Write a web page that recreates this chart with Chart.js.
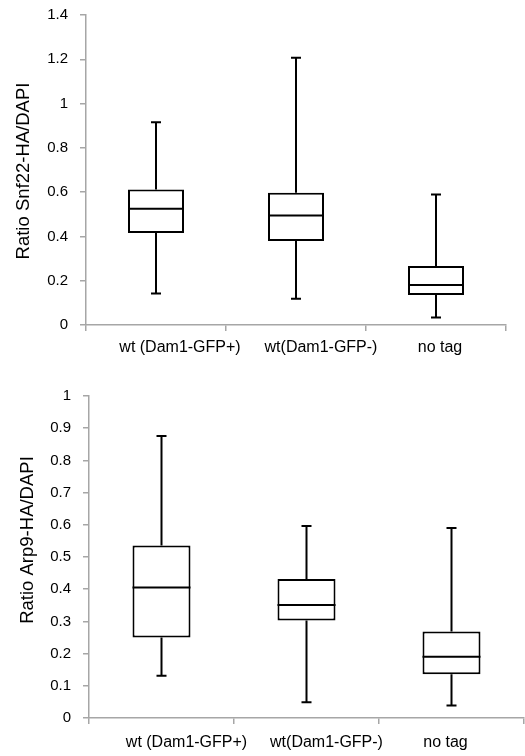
<!DOCTYPE html>
<html>
<head>
<meta charset="utf-8">
<script src="https://cdn.jsdelivr.net/npm/chart.js@4"></script>
<style>
  html, body { margin: 0; padding: 0; background: #fff; overflow: hidden; }
  .wrap { position: relative; width: 525px; }
  canvas { display: block; }
</style>
</head>
<body>
<div class="wrap" style="height:366px; margin-top:-6px"><canvas id="top"></canvas></div>
<div class="wrap" style="height:396px"><canvas id="bottom"></canvas></div>
<script>
// --- box plot values ---
const categories = ['wt (Dam1-GFP+)', 'wt(Dam1-GFP-)', 'no tag'];

const snfMin = [0.142, 0.118, 0.034];
const snfQ1 = [0.415, 0.379, 0.135];
const snfMed = [0.525, 0.495, 0.181];
const snfQ3 = [0.612, 0.597, 0.267];
const snfMax = [0.916, 1.207, 0.589];

const arpMin = [0.131, 0.049, 0.039];
const arpQ1 = [0.250, 0.303, 0.136];
const arpMed = [0.405, 0.351, 0.190];
const arpQ3 = [0.536, 0.432, 0.269];
const arpMax = [0.876, 0.596, 0.590];

const axisGrey = '#a6a6a6';
const fontFam = '"Liberation Sans", Arial, sans-serif';

// whiskers, median, and the hand-placed labels of the original figure
const boxPlugin = {
  id: 'boxParts',
  afterDatasetsDraw(chart) {
    const { ctx, scales: { x, y } } = chart;
    const st = chart.options.plugins.boxParts;
    const meta = chart.getDatasetMeta(0);
    ctx.save();
    ctx.strokeStyle = '#000';
    ctx.lineWidth = 2;
    categories.forEach((c, i) => {
      const cx = x.getPixelForValue(i);
      const half = meta.data[i].width / 2;
      const cap = 5;
      const yMin = y.getPixelForValue(st.min[i]);
      const yQ1 = y.getPixelForValue(st.q1[i]);
      const yMed = y.getPixelForValue(st.med[i]);
      const yQ3 = y.getPixelForValue(st.q3[i]);
      const yMax = y.getPixelForValue(st.max[i]);
      ctx.beginPath();
      ctx.moveTo(cx, yQ3); ctx.lineTo(cx, yMax);
      ctx.moveTo(cx - cap, yMax); ctx.lineTo(cx + cap, yMax);
      ctx.moveTo(cx, yQ1); ctx.lineTo(cx, yMin);
      ctx.moveTo(cx - cap, yMin); ctx.lineTo(cx + cap, yMin);
      ctx.moveTo(cx - half, yMed); ctx.lineTo(cx + half, yMed);
      ctx.stroke();
    });

    // category labels (shifted like the source figure)
    ctx.fillStyle = '#000';
    ctx.font = '16px ' + fontFam;
    ctx.textAlign = 'center';
    ctx.textBaseline = 'middle';
    categories.forEach((c, i) => {
      ctx.fillText(c, x.getPixelForValue(i) + st.labelShift[i], x.top + st.labelDy);
    });

    // y title
    ctx.translate(st.titleX, (y.top + y.bottom) / 2 + st.titleDy);
    ctx.rotate(-Math.PI / 2);
    ctx.font = '18.5px ' + fontFam;
    ctx.fillText(st.title, 0, 0);
    ctx.restore();
  }
};

function makeChart(id, s) {
  return new Chart(document.getElementById(id), {
    type: 'bar',
    data: {
      labels: categories,
      datasets: [{
        data: s.q1.map((v, i) => [v, s.q3[i]]),
        backgroundColor: '#fff',
        borderColor: '#000',
        borderWidth: 2,
        borderSkipped: false,
        barPercentage: 0.4,
        categoryPercentage: 1
      }]
    },
    options: {
      responsive: true,
      maintainAspectRatio: false,
      animation: false,
      layout: { padding: { top: s.padTop, right: s.padRight, left: 0, bottom: 0 } },
      plugins: {
        legend: { display: false },
        tooltip: { enabled: false },
        boxParts: s
      },
      scales: {
        x: {
          grid: { offset: true, drawOnChartArea: false, drawTicks: true, tickLength: 6, color: axisGrey, lineWidth: 1.5 },
          border: { color: axisGrey, width: 1.5 },
          ticks: { display: false },
          afterFit: sc => { sc.height = s.xHeight; }
        },
        y: {
          min: 0,
          max: s.yMax,
          grid: { drawOnChartArea: false, drawTicks: true, tickLength: 6, color: axisGrey, lineWidth: 1.5 },
          border: { color: axisGrey, width: 1.5 },
          ticks: {
            stepSize: s.step,
            color: '#000',
            padding: 12,
            font: { family: fontFam, size: 15 },
            callback: v => String(+v.toFixed(2))
          },
          afterFit: sc => { sc.width = s.yWidth; }
        }
      }
    },
    plugins: [boxPlugin]
  });
}

makeChart('top', {
  min: snfMin, q1: snfQ1, med: snfMed, q3: snfQ3, max: snfMax,
  yMax: 1.4, step: 0.2, title: 'Ratio Snf22-HA/DAPI',
  padTop: 8, padRight: 19, yWidth: 86, xHeight: 35,
  labelShift: [24, 25, 4], labelDy: 23, titleX: 24, titleDy: 1
});

makeChart('bottom', {
  min: arpMin, q1: arpQ1, med: arpMed, q3: arpQ3, max: arpMax,
  yMax: 1, step: 0.1, title: 'Ratio Arp9-HA/DAPI',
  padTop: 36, padRight: 1, yWidth: 89, xHeight: 38,
  labelShift: [25, 20, -6], labelDy: 25, titleX: 28, titleDy: -17
});
</script>
</body>
</html>
